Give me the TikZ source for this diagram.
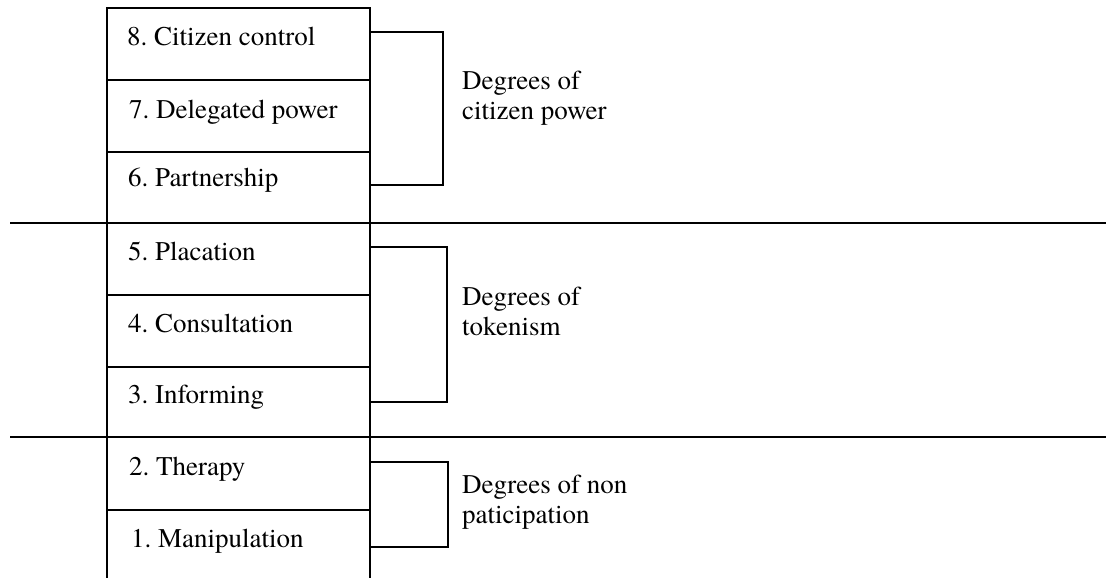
\documentclass[tikz,border=0pt]{standalone}
\usepackage{fontspec}
\setmainfont{TeX Gyre Termes}
\frenchspacing
\begin{document}
\begin{tikzpicture}[x=1pt,y=-1pt,
  frame/.style={line width=2.5pt, line cap=rect},
  divider/.style={line width=2.5pt},
  bracket/.style={line width=2.2pt},
  rung/.style={anchor=base west, inner sep=0pt, font=\fontsize{27}{30}\selectfont},
  grouplabel/.style={anchor=base west, inner sep=0pt, align=left, font=\fontsize{27}{30}\selectfont}]
\useasboundingbox (0,0) rectangle (1106,578);

% ladder frame (open at the bottom)
\draw[frame] (107,578) -- (107,8) -- (370,8) -- (370,578);
\foreach \y in {80,152,295,367,510}
  \draw[frame] (107,\y) -- (370,\y);

% long separators between the three groups
\draw[divider] (10,223) -- (1106,223);
\draw[divider] (10,437) -- (1106,437);

% rungs of the ladder
\node[rung] (r8) at (127,46)  {8. Citizen control};
\node[rung] (r7) at (129,118) {7. Delegated power};
\node[rung] (r6) at (128,186) {6. Partnership};
\node[rung] (r5) at (128,260) {5. Placation};
\node[rung] (r4) at (128,332) {4. Consultation};
\node[rung] (r3) at (128,403) {3. Informing};
\node[rung] (r2) at (129,475) {2. Therapy};
\node[rung] (r1) at (131,547) {1. Manipulation};

% bracket end points on the right side of the ladder
\coordinate (c1t) at (370,32);
\coordinate (c1b) at (370,185);
\coordinate (c2t) at (370,247);
\coordinate (c2b) at (370,402);
\coordinate (c3t) at (370,462);
\coordinate (c3b) at (370,547);

\draw[bracket] (c1t) -- ++(73,0) |- (c1b);
\draw[bracket] (c2t) -- ++(77,0) |- (c2b);
\draw[bracket] (c3t) -- ++(78,0) |- (c3b);

% group labels (anchored on the baseline of their last line)
\node[grouplabel] (g1) at (462,119) {Degrees of\\citizen power};
\node[grouplabel] (g2) at (462,335) {Degrees of\\tokenism};
\node[grouplabel] (g3) at (462,523) {Degrees of non\\paticipation};
\end{tikzpicture}
\end{document}
